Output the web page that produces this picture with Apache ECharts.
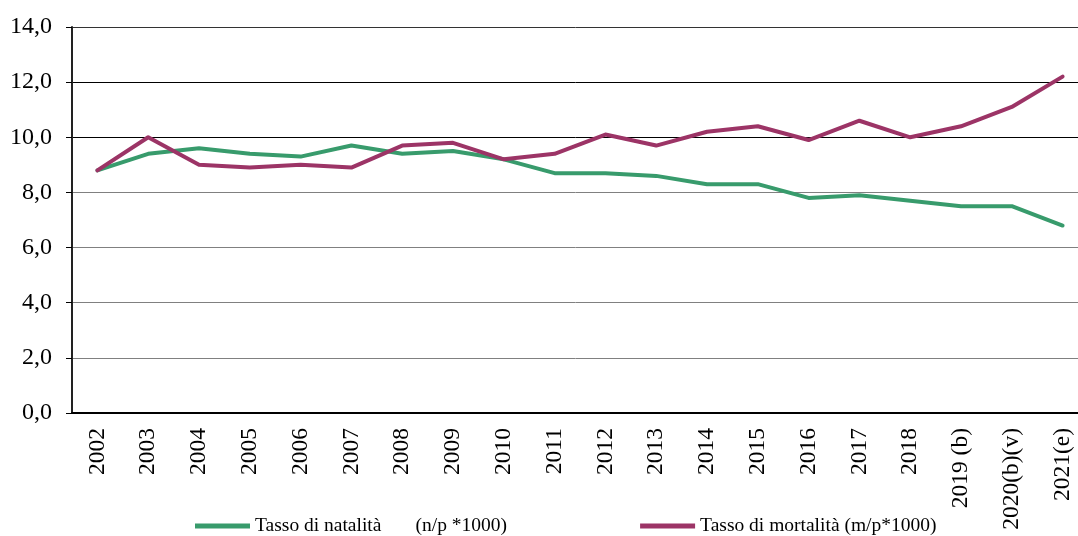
<!DOCTYPE html>
<html>
<head>
<meta charset="utf-8">
<script src="https://cdn.jsdelivr.net/npm/echarts@6/dist/echarts.min.js"></script>
<style>
  html, body { margin: 0; padding: 0; background: #fff; }
  #chart { width: 1078px; height: 536px; }
</style>
</head>
<body>
<div id="chart"></div>
<script>
// anni
const anni = ["2002", "2003", "2004", "2005", "2006", "2007", "2008", "2009", "2010", "2011",
  "2012", "2013", "2014", "2015", "2016", "2017", "2018", "2019 (b)", "2020(b)(v)", "2021(e)"];
// tasso di natalità (n/p *1000)
const natalita = [8.8, 9.4, 9.6, 9.4, 9.3, 9.7, 9.4, 9.5, 9.2, 8.7,
  8.7, 8.6, 8.3, 8.3, 7.8, 7.9, 7.7, 7.5, 7.5, 6.8];
// tasso di mortalità (m/p *1000)
const mortalita = [8.8, 10.0, 9.0, 8.9, 9.0, 8.9, 9.7, 9.8, 9.2, 9.4,
  10.1, 9.7, 10.2, 10.4, 9.9, 10.6, 10.0, 10.4, 11.1, 12.2];
const yTicks = [0, 2, 4, 6, 8, 10, 12, 14];

const font = "Liberation Serif";
const chart = echarts.init(document.getElementById("chart"), null, { renderer: "canvas" });

chart.setOption({
  animation: false,
  backgroundColor: "#fff",
  textStyle: { fontFamily: font, color: "#000" },
  // il grafico originale è tagliato a destra: l'ultima categoria esce dal quadro
  grid: { left: 72, right: -10, top: 27, bottom: 123, outerBoundsMode: "none" },
  legend: {
    left: 190,
    top: 511,
    itemWidth: 55,
    itemHeight: 5,
    itemGap: 133,
    icon: "rect",
    textStyle: { fontFamily: font, fontSize: 19.5, color: "#000" },
    data: ["Tasso di natalità       (n/p *1000)", "Tasso di mortalità (m/p*1000)"],
  },
  xAxis: {
    type: "category",
    data: anni,
    boundaryGap: true,
    axisLine: { lineStyle: { color: "#000", width: 2 } },
    axisTick: { length: 6, lineStyle: { color: "#000", width: 1 } },
    axisLabel: {
      rotate: 90,
      interval: 0,
      margin: 15,
      fontFamily: font,
      fontSize: 23.5,
      color: "#000",
    },
  },
  yAxis: {
    type: "value",
    min: yTicks[0],
    max: yTicks[yTicks.length - 1],
    interval: 2,
    axisLine: { show: true, lineStyle: { color: "#222", width: 2 } },
    axisTick: { show: true, length: 6, lineStyle: { color: "#000" } },
    axisLabel: {
      margin: 20,
      fontFamily: font,
      fontSize: 24,
      color: "#000",
      formatter: (v) => v.toFixed(1).replace(".", ","),
    },
    splitLine: {
      lineStyle: {
        color: ["#808080", "#808080", "#808080", "#808080", "#808080", "#000", "#000", "#333"],
        width: 1,
      },
    },
  },
  series: [
    {
      name: "Tasso di natalità       (n/p *1000)",
      type: "line",
      data: natalita,
      symbol: "none",
      color: "#389b6c",
      lineStyle: { width: 4, color: "#389b6c", cap: "round", join: "round" },
      z: 2,
    },
    {
      name: "Tasso di mortalità (m/p*1000)",
      type: "line",
      data: mortalita,
      symbol: "none",
      color: "#9c3466",
      lineStyle: { width: 4, color: "#9c3466", cap: "round", join: "round" },
      z: 3,
    },
  ],
});
</script>
</body>
</html>
